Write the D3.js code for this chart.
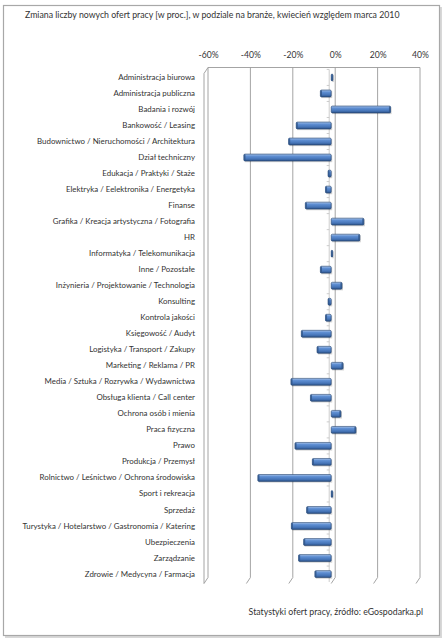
<!DOCTYPE html>
<html><head><meta charset="utf-8">
<script src="https://cdn.jsdelivr.net/npm/d3@7"></script>
<style>
html,body{margin:0;padding:0;background:#fff;}
svg{display:block;}
text{font-family:Lato,"Open Sans",sans-serif;fill:#333;}
</style></head>
<body>
<svg id="chart" width="447" height="640"></svg>
<script>
const title = "Zmiana liczby nowych ofert pracy [w proc.], w podziale na branże, kwiecień względem marca 2010";
const footer = "Statystyki ofert pracy, źródło: eGospodarka.pl";
const categories = [
  "Administracja biurowa","Administracja publiczna","Badania i rozwój","Bankowość / Leasing",
  "Budownictwo / Nieruchomości / Architektura","Dział techniczny","Edukacja / Praktyki / Staże",
  "Elektryka / Eelektronika / Energetyka","Finanse","Grafika / Kreacja artystyczna  / Fotografia",
  "HR","Informatyka / Telekomunikacja","Inne / Pozostałe","Inżynieria / Projektowanie / Technologia",
  "Konsulting","Kontrola jakości","Księgowość / Audyt","Logistyka / Transport / Zakupy",
  "Marketing / Reklama  / PR","Media / Sztuka / Rozrywka / Wydawnictwa","Obsługa klienta / Call center",
  "Ochrona osób i mienia","Praca fizyczna","Prawo","Produkcja / Przemysł",
  "Rolnictwo / Leśnictwo / Ochrona środowiska","Sport i rekreacja","Sprzedaż",
  "Turystyka / Hotelarstwo / Gastronomia  / Katering","Ubezpieczenia","Zarządzanie",
  "Zdrowie / Medycyna / Farmacja"
];
const values = [
  0.8, -5.1, 28.0, -16.5,
  -20.1, -41.2, -1.5,
  -2.7, -12.2, 15.4,
  13.5, 0.5, -5.1, 5.1,
  -1.5, -2.7, -14.1, -6.7,
  5.6, -19.0, -9.8,
  4.6, 11.7, -17.1, -8.9,
  -34.6, 0.5, -11.6,
  -18.8, -13.0, -15.4,
  -7.7
];
const tickValues = [-60, -40, -20, 0, 20, 40];

const svg = d3.select("#chart");
const defs = svg.append("defs");
const grad = defs.append("linearGradient").attr("id","barGrad").attr("x1",0).attr("y1",0).attr("x2",0).attr("y2",1);
[["0%","#a9c4ea"],["30%","#5f8fd3"],["70%","#4675b8"],["100%","#2d5287"]].forEach(([o,c])=>
  grad.append("stop").attr("offset",o).attr("stop-color",c));

// outer frame with shadow
svg.append("rect").attr("x",5).attr("y",7).attr("width",437).attr("height",631).attr("fill","#d8d8d8");
svg.append("rect").attr("x",3.5).attr("y",5.5).attr("width",436).attr("height",630)
  .attr("fill","#fff").attr("stroke","#a8a8a8").attr("stroke-width",1.2);

// scales
const depthX = -4, depthY = 6;
const xBack = d3.scaleLinear().domain([-60,40]).range([208,420]);
const xFront = d3.scaleLinear().domain([-60,40]).range([208+depthX,420+depthX]);
const y = d3.scaleBand().domain(categories).range([69.5, 582]).paddingInner(0.57).paddingOuter(0.28);
const wallTop = 67.5, wallBottom = 577.5;

// back wall gridlines + floor slants
const grid = svg.append("g").attr("stroke","#9a9a9a").attr("stroke-width",0.9).attr("fill","none");
tickValues.forEach(v=>{
  const gx = xBack(v);
  grid.append("path").attr("d",`M${gx},${wallTop}V${wallBottom}L${gx+depthX},${wallBottom+depthY}`);
});
grid.append("line").attr("x1",xBack(-60)).attr("x2",xBack(40)).attr("y1",wallTop).attr("y2",wallTop);
// left side wall front edge
grid.append("path").attr("d",`M${xBack(-60)},${wallTop}L${xFront(-60)},${wallTop+depthY}V${wallBottom+depthY}`);

// top axis labels
const axTop = svg.append("g").attr("transform","translate(0,61)")
  .call(d3.axisTop(xBack).tickValues(tickValues).tickFormat(d=>d+"%").tickSize(0).tickPadding(3));
axTop.select(".domain").remove();
axTop.selectAll("text").style("font-family","Lato, 'Open Sans', sans-serif").style("font-size","8.6px").attr("fill","#333");

// front category axis line with small ticks
const axX = xFront(0) - 2;
const ax = svg.append("g").attr("stroke","#b8b8b8").attr("stroke-width",0.7);
ax.append("line").attr("x1",axX).attr("x2",axX).attr("y1",y.range()[0]).attr("y2",y.range()[1]);
categories.forEach(c=>{
  const ty = y(c) - y.step()*y.paddingInner()/2;
  ax.append("line").attr("x1",axX-2.5).attr("x2",axX).attr("y1",ty).attr("y2",ty);
});

// category labels
const axLeft = svg.append("g").attr("transform","translate(195,0)")
  .call(d3.axisLeft(y).tickSize(0).tickPadding(0));
axLeft.select(".domain").remove();
axLeft.selectAll("text").style("font-family","Lato, 'Open Sans', sans-serif").style("font-size","7.9px").attr("fill","#2a2a2a");

// bars
const bars = svg.append("g");
categories.forEach((c,i)=>{
  const v = values[i];
  const x0 = xFront(Math.min(0,v)), x1 = xFront(Math.max(0,v));
  const by = y(c), bh = y.bandwidth();
  const w = Math.max(x1-x0, 1.5);
  bars.append("rect").attr("x",x0+1).attr("y",by+1.2).attr("width",w).attr("height",bh)
    .attr("fill","#000").attr("opacity",0.18);
  bars.append("rect").attr("x",x0).attr("y",by).attr("width",w).attr("height",bh)
    .attr("rx",1.2).attr("fill","url(#barGrad)").attr("stroke","#24436e").attr("stroke-width",0.6);
  // 3D end cap
  const capX = v >= 0 ? x0 + w - 1.6 : x0;
  bars.append("rect").attr("x",capX).attr("y",by+0.3).attr("width",1.6).attr("height",bh-0.6)
    .attr("fill","#2f5588").attr("opacity",0.8);
});

// title & footer
svg.append("text").attr("x",25).attr("y",17.5).style("font-size","8.75px").attr("fill","#2a2a2a").text(title);
svg.append("text").attr("x",423).attr("y",615).attr("text-anchor","end").style("font-size","8.75px").attr("fill","#2a2a2a").text(footer);
</script>
</body></html>
